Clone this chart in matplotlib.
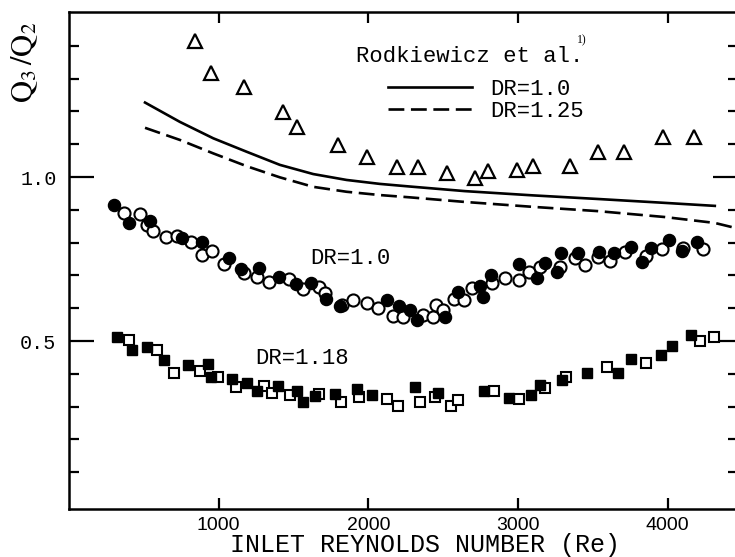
import matplotlib.pyplot as plt
import numpy as np
from matplotlib.ticker import FixedLocator

plt.rcParams['mathtext.fontset'] = 'stix'

# ----------- Data -----------

# Rodkiewicz et al. curves
re_dr100 = [508, 741, 964, 1187, 1409, 1632, 1855, 2077, 2278, 2645, 3100, 3534, 3950, 4315]
q_dr100 = [1.227, 1.168, 1.118, 1.077, 1.037, 1.009, 0.991, 0.979, 0.971, 0.957,
           0.944, 0.933, 0.922, 0.912]
re_dr125 = [508, 741, 964, 1187, 1409, 1632, 1855, 2077, 2278, 2645, 3100, 3534,
            3981, 4315, 4450]
q_dr125 = [1.150, 1.113, 1.072, 1.033, 0.999, 0.970, 0.955, 0.945, 0.938, 0.924,
           0.909, 0.896, 0.878, 0.860, 0.845]

# open triangles
tri_re = [842, 949, 1169, 1430, 1523, 1797, 1991, 2191, 2331, 2525, 2712, 2799,
          2993, 3100, 3347, 3534, 3707, 3968, 4175]
tri_q = [1.415, 1.317, 1.274, 1.198, 1.152, 1.098, 1.061, 1.030, 1.030, 1.012,
         0.997, 1.018, 1.021, 1.034, 1.034, 1.076, 1.076, 1.122, 1.122]

# DR=1.0, filled circles
circ_f_re = [300, 400, 540, 755, 890, 1069, 1149, 1269, 1403, 1516, 1617, 1717,
             1810, 2124, 2204, 2278, 2325, 2512, 2599, 2745, 2766, 2819, 3006,
             3126, 3180, 3260, 3287, 3400, 3540, 3641, 3754, 3828, 3888, 4008,
             4095, 4195]
circ_f_q = [0.915, 0.860, 0.866, 0.814, 0.802, 0.753, 0.720, 0.723, 0.695, 0.674,
            0.677, 0.628, 0.607, 0.625, 0.607, 0.595, 0.564, 0.573, 0.649, 0.668,
            0.634, 0.701, 0.735, 0.692, 0.738, 0.710, 0.768, 0.768, 0.771, 0.768,
            0.787, 0.741, 0.784, 0.808, 0.774, 0.802]

# DR=1.0, open circles
circ_o_re = [367, 474, 521, 561, 648, 721, 815, 888, 955, 1035, 1169, 1256, 1336,
             1470, 1563, 1670, 1710, 1824, 1897, 1991, 2064, 2164, 2231, 2365,
             2432, 2452, 2498, 2572, 2639, 2692, 2826, 2912, 3006, 3073, 3146,
             3280, 3380, 3447, 3534, 3614, 3714, 3854, 3961, 4102, 4235]
circ_o_q = [0.890, 0.887, 0.854, 0.835, 0.817, 0.820, 0.802, 0.762, 0.774, 0.735,
            0.707, 0.695, 0.680, 0.689, 0.659, 0.665, 0.646, 0.610, 0.625, 0.616,
            0.601, 0.576, 0.573, 0.579, 0.573, 0.610, 0.595, 0.628, 0.625, 0.662,
            0.677, 0.692, 0.686, 0.710, 0.726, 0.726, 0.753, 0.732, 0.756, 0.744,
            0.771, 0.759, 0.780, 0.784, 0.780]

# DR=1.18, filled squares
sq_f_re = [324, 424, 519, 638, 795, 929, 949, 1089, 1186, 1254, 1398, 1526, 1563,
           1641, 1775, 1922, 2024, 2309, 2463, 2770, 2937, 3086, 3146, 3291,
           3460, 3667, 3756, 3955, 4030, 4153]
sq_f_q = [0.513, 0.473, 0.483, 0.443, 0.426, 0.430, 0.390, 0.384, 0.373, 0.348,
          0.363, 0.348, 0.314, 0.331, 0.338, 0.353, 0.334, 0.360, 0.342, 0.347,
          0.325, 0.335, 0.366, 0.381, 0.402, 0.403, 0.444, 0.456, 0.485, 0.518]

# DR=1.18, open squares
sq_o_re = [399, 586, 700, 873, 994, 1118, 1304, 1357, 1474, 1671, 1819, 1941,
           2126, 2200, 2343, 2446, 2550, 2599, 2837, 3005, 3180, 3319, 3597,
           3854, 4217, 4307]
sq_o_q = [0.503, 0.473, 0.404, 0.408, 0.391, 0.361, 0.362, 0.341, 0.334, 0.339,
          0.313, 0.328, 0.324, 0.302, 0.314, 0.328, 0.302, 0.319, 0.347, 0.322,
          0.356, 0.389, 0.420, 0.434, 0.501, 0.511]

x_ticks = [1000, 2000, 3000, 4000]
y_major = [0.5, 1.0]
y_minor = [0.1, 0.2, 0.3, 0.4, 0.6, 0.7, 0.8, 0.9, 1.1, 1.2, 1.3, 1.4]

# ----------- Figure -----------

fig = plt.figure(figsize=(7.35, 5.57), dpi=100)
ax = fig.add_axes([69 / 735, 48 / 557, 669 / 735, 497 / 557])

mono = 'Liberation Mono'
lw = 1.9
ms_c = 8.7
ms_s = 7.4

ax.plot(re_dr100, q_dr100, color='black', lw=lw, label='DR=1.0')
ax.plot(re_dr125, q_dr125, color='black', lw=lw, dashes=(6, 2.5), label='DR=1.25')

ax.plot(tri_re, tri_q, ls='none', marker='^', ms=10.5, mfc='white', mec='black', mew=1.6)
ax.plot(circ_o_re, circ_o_q, ls='none', marker='o', ms=ms_c, mfc='white', mec='black', mew=1.5)
ax.plot(circ_f_re, circ_f_q, ls='none', marker='o', ms=ms_c, mfc='black', mec='black', mew=1.0)
ax.plot(sq_o_re, sq_o_q, ls='none', marker='s', ms=ms_s, mfc='white', mec='black', mew=1.5)
ax.plot(sq_f_re, sq_f_q, ls='none', marker='s', ms=ms_s, mfc='black', mec='black', mew=1.0)

ax.set_xlim(0, 4470)
ax.set_ylim(-0.012, 1.503)

for s in ax.spines.values():
    s.set_linewidth(1.8)

ax.set_xticks(x_ticks)
ax.set_xticklabels([str(v) for v in x_ticks], fontfamily='Liberation Sans', fontsize=14)
ax.tick_params(axis='x', which='major', direction='in', top=True, bottom=True,
               length=8, width=1.6, pad=6)

ax.yaxis.set_major_locator(FixedLocator(y_major))
ax.yaxis.set_minor_locator(FixedLocator(y_minor))
ax.set_yticklabels(['0.5', '1.0'], fontfamily=mono, fontsize=14.5)
ax.tick_params(axis='y', which='major', direction='in', left=True, right=True,
               length=18, width=1.6, pad=9)
ax.tick_params(axis='y', which='minor', direction='in', left=True, right=True,
               length=7.2, width=1.6)

# labels
fig.text(425 / 735, 1 - 545 / 557, 'INLET REYNOLDS NUMBER (Re)', family=mono,
         fontsize=18, ha='center', va='center')
fig.text(25 / 735, 1 - 62 / 557, r'$\mathrm{Q}_3\,/\mathrm{Q}_2$', fontsize=22,
         rotation=90, ha='center', va='center')

ax.text(1917, 1.366, 'Rodkiewicz et al.', family=mono, fontsize=16, va='center')
ax.text(3393, 1.418, '1)', family='Liberation Serif', fontsize=8.5, va='center')
ax.text(1610, 0.753, 'DR=1.0', family=mono, fontsize=16, va='center')
ax.text(1242, 0.448, 'DR=1.18', family=mono, fontsize=16, va='center')

ax.legend(loc='upper left', bbox_to_anchor=(388 / 735, 1 - 79 / 557),
          bbox_transform=fig.transFigure, frameon=False, borderpad=0,
          borderaxespad=0, handlelength=3.8, handletextpad=0.8, labelspacing=0.05,
          prop={'family': mono, 'size': 16})

plt.savefig('out.png', dpi=100)
plt.close()
